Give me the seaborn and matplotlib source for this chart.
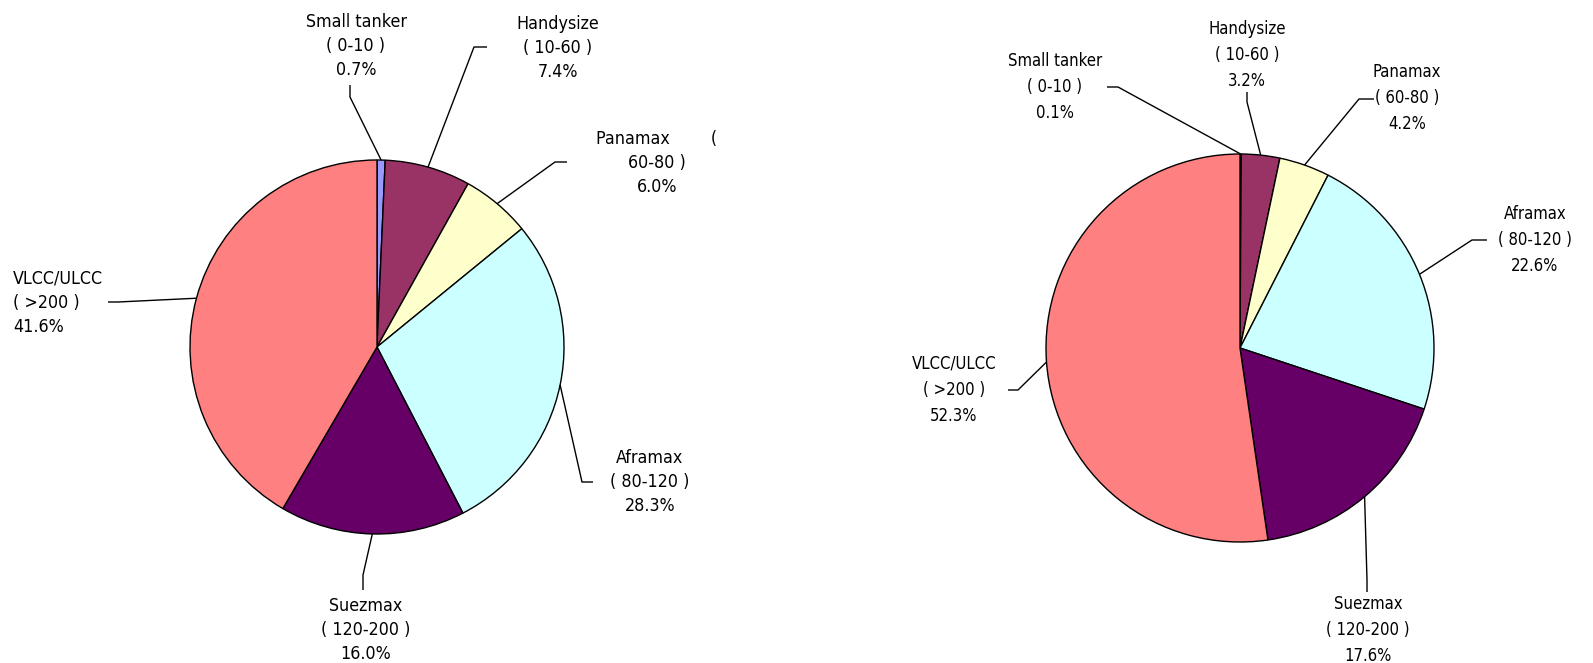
import numpy as np
import matplotlib
matplotlib.use("Agg")
import matplotlib.pyplot as plt
import seaborn as sns

sns.set_theme(style="white")
plt.rcParams['font.family'] = ['DejaVu Sans']

# ---------------------------------------------------------
# DATA: tanker fleet share by size class (thousand dwt)
# ---------------------------------------------------------
tanker_classes = ["Small tanker", "Handysize", "Panamax", "Aframax", "Suezmax", "VLCC/ULCC"]
dwt_ranges = ["0-10", "10-60", "60-80", "80-120", "120-200", ">200"]
share_left = [0.7, 7.4, 6.0, 28.3, 16.0, 41.6]
share_right = [0.1, 3.2, 4.2, 22.6, 17.6, 52.3]
slice_colors = ["#9999FF", "#993366", "#FFFFCC", "#CCFFFF", "#660066", "#FF8080"]

W, H = 1593, 663

# Layout in pixels measured from the top-left corner of the figure
left_layout = dict(
    center=(377, 347), radius=187, fontsize=12.8, linespacing=1.43,
    text=[(356, 46), (558, 48), (657, 163), (650, 482), (366, 630), (13, 303)],
    ha=["center", "center", "center", "center", "center", "left"],
    leader=[[(350, 85), (350, 97)], [(487, 47), (474, 47)], [(567, 162), (555, 162)],
            [(593, 482), (582, 482)], [(363, 590), (363, 575)], [(108, 302), (118, 302)]],
)
right_layout = dict(
    center=(1240, 348), radius=194, fontsize=12.0, linespacing=1.6,
    text=[(1055, 87), (1247, 55), (1407, 98), (1535, 240), (1368, 630), (954, 390)],
    ha=["center"] * 6,
    leader=[[(1107, 87), (1118, 87)], [(1247, 92), (1247, 102)], [(1374, 99), (1359, 99)],
            [(1487, 240), (1472, 240)], [(1367, 592), (1367, 580)], [(1008, 390), (1018, 390)]],
)


def label_text(name, rng, pct):
    return f"{name}\n( {rng} )\n{pct:.1f}%"


fig = plt.figure(figsize=(W / 100, H / 100), dpi=100)
palette = sns.color_palette(slice_colors)


def draw_pie(values, layout, overrides=None):
    cx, cy = layout["center"]
    r = layout["radius"]
    ax = fig.add_axes([0, 0, 1, 1])
    ax.patch.set_alpha(0)

    def px(p):
        return ((p[0] - cx) / r, (cy - p[1]) / r)

    wedges, _ = ax.pie(values, colors=palette, startangle=90, counterclock=False,
                       radius=1, wedgeprops=dict(edgecolor="black", linewidth=1))
    ax.set_aspect("auto")
    ax.set_xlim(-cx / r, (W - cx) / r)
    ax.set_ylim((cy - H) / r, cy / r)
    ax.axis("off")

    # leader lines run from the slice edge (mid-angle) to each label
    for i, w in enumerate(wedges):
        mid = np.deg2rad((w.theta1 + w.theta2) / 2)
        edge = (np.cos(mid), np.sin(mid))
        p0, p1 = px(layout["leader"][i][0]), px(layout["leader"][i][1])
        ax.plot([p0[0], p1[0], edge[0]], [p0[1], p1[1], edge[1]],
                color="black", linewidth=1, solid_capstyle="butt")
        txt = label_text(tanker_classes[i], dwt_ranges[i], values[i])
        if overrides and i in overrides:
            txt = overrides[i]
        tx, ty = px(layout["text"][i])
        ha = layout["ha"][i]
        ax.text(tx, ty, txt, ha=ha, va="center", multialignment=ha,
                fontsize=layout["fontsize"], color="black", fontstretch="condensed",
                linespacing=layout["linespacing"])


draw_pie(share_left, left_layout, overrides={2: "Panamax        (\n60-80 )\n6.0%"})
draw_pie(share_right, right_layout)

fig.savefig("out.png", dpi=100)
